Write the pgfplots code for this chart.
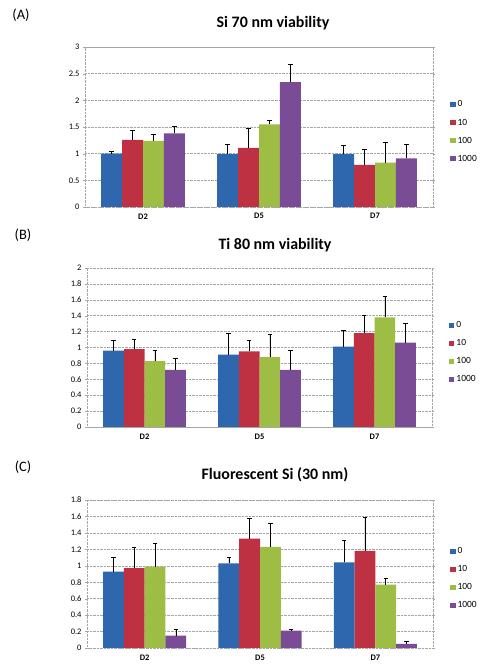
\documentclass[border=0pt]{standalone}
\usepackage{pgfplots}
\pgfplotsset{compat=1.18}
\usepackage{fontspec}
\setmainfont{Carlito}

\definecolor{cZero}{HTML}{2E67AE}
\definecolor{cTen}{HTML}{BE3142}
\definecolor{cHund}{HTML}{9DBD45}
\definecolor{cThou}{HTML}{7B4C96}

\pgfplotsset{
  viab/.style={
    ybar=0pt, bar width=0.18,
    scale only axis,
    xmin=-0.5, xmax=2.5,
    xtick={0,1,2}, xticklabels={D2,D5,D7},
    xtick style={draw=none},
    extra x ticks={0.5,1.5}, extra x tick labels={},
    extra x tick style={tick style={draw=gray, thin}, major tick length=3bp, tick align=outside},
    ymin=0,
    ymajorgrids, major grid style={gray!70, densely dotted},
    axis line style={gray!70, densely dotted},
    ytick style={draw=gray!70}, tick align=outside, major tick length=2bp,
    /pgf/number format/assume math mode=true,
    yticklabel style={font=\fontsize{8.5}{9}\selectfont},
    xticklabel style={font=\fontsize{8.5}{10}\selectfont\bfseries, yshift=-1bp},
    legend style={draw=none, fill=none, font=\fontsize{9.5}{11}\selectfont,
      at={(1.04,0.47)}, anchor=west, row sep=6.5bp,
      /tikz/every even column/.append style={column sep=1bp}},
    legend cell align=left,
    legend image code/.code={\fill[##1] (0bp,-2.5bp) rectangle (5.5bp,2.5bp);},
    error bars/y dir=plus, error bars/y explicit,
    error bars/error bar style={black, line width=0.6pt},
    error bars/error mark options={black, line width=0.6pt, mark size=2.2bp, rotate=90},
  },
  sZero/.style={fill=cZero, draw=none},
  sTen/.style={fill=cTen, draw=none},
  sHund/.style={fill=cHund, draw=none},
  sThou/.style={fill=cThou, draw=none},
}

\begin{document}
\begin{tikzpicture}[x=1bp,y=1bp]
\path (0,0) rectangle (486,665);

% (A) Si 70 nm
\node[font=\fontsize{14.5}{16}\selectfont] at (21,650) {(A)};
\node[font=\fontsize{16}{18}\selectfont\bfseries] at (273,642) {Si 70 nm viability};
\begin{axis}[viab, at={(85bp,458bp)}, anchor=south west, width=348bp, height=160bp,
  ymax=3, ytick={0,0.5,1,1.5,2,2.5,3}]
\addplot[sZero] coordinates {(0,1.00) +- (0,0.04) (1,0.99) +- (0,0.18) (2,0.99) +- (0,0.16)};
\addplot[sTen] coordinates {(0,1.26) +- (0,0.18) (1,1.11) +- (0,0.37) (2,0.79) +- (0,0.30)};
\addplot[sHund] coordinates {(0,1.24) +- (0,0.12) (1,1.55) +- (0,0.08) (2,0.83) +- (0,0.38)};
\addplot[sThou] coordinates {(0,1.38) +- (0,0.14) (1,2.34) +- (0,0.34) (2,0.91) +- (0,0.26)};
\legend{0,10,100,1000}
\end{axis}

% (B) Ti 80 nm
\node[font=\fontsize{14.5}{16}\selectfont] at (23,430) {(B)};
\node[font=\fontsize{16}{18}\selectfont\bfseries] at (275,420) {Ti 80 nm viability};
\begin{axis}[viab, at={(87bp,238bp)}, anchor=south west, width=345bp, height=159bp,
  ymax=2, ytick={0,0.2,0.4,0.6,0.8,1,1.2,1.4,1.6,1.8,2}]
\addplot[sZero] coordinates {(0,0.96) +- (0,0.13) (1,0.91) +- (0,0.27) (2,1.01) +- (0,0.20)};
\addplot[sTen] coordinates {(0,0.98) +- (0,0.12) (1,0.95) +- (0,0.14) (2,1.18) +- (0,0.22)};
\addplot[sHund] coordinates {(0,0.83) +- (0,0.14) (1,0.88) +- (0,0.28) (2,1.38) +- (0,0.27)};
\addplot[sThou] coordinates {(0,0.72) +- (0,0.15) (1,0.72) +- (0,0.25) (2,1.06) +- (0,0.25)};
\legend{0,10,100,1000}
\end{axis}

% (C) Fluorescent Si
\node[font=\fontsize{14.5}{16}\selectfont] at (23,198) {(C)};
\node[font=\fontsize{16}{18}\selectfont\bfseries] at (275,190) {Fluorescent Si (30 nm)};
\begin{axis}[viab, at={(87bp,17bp)}, anchor=south west, width=346bp, height=148bp,
  ymax=1.8, ytick={0,0.2,0.4,0.6,0.8,1,1.2,1.4,1.6,1.8}]
\addplot[sZero] coordinates {(0,0.93) +- (0,0.17) (1,1.03) +- (0,0.07) (2,1.04) +- (0,0.27)};
\addplot[sTen] coordinates {(0,0.97) +- (0,0.25) (1,1.33) +- (0,0.25) (2,1.18) +- (0,0.41)};
\addplot[sHund] coordinates {(0,0.99) +- (0,0.28) (1,1.23) +- (0,0.29) (2,0.77) +- (0,0.08)};
\addplot[sThou] coordinates {(0,0.15) +- (0,0.08) (1,0.21) +- (0,0.02) (2,0.05) +- (0,0.03)};
\legend{0,10,100,1000}
\end{axis}
\end{tikzpicture}
\end{document}
